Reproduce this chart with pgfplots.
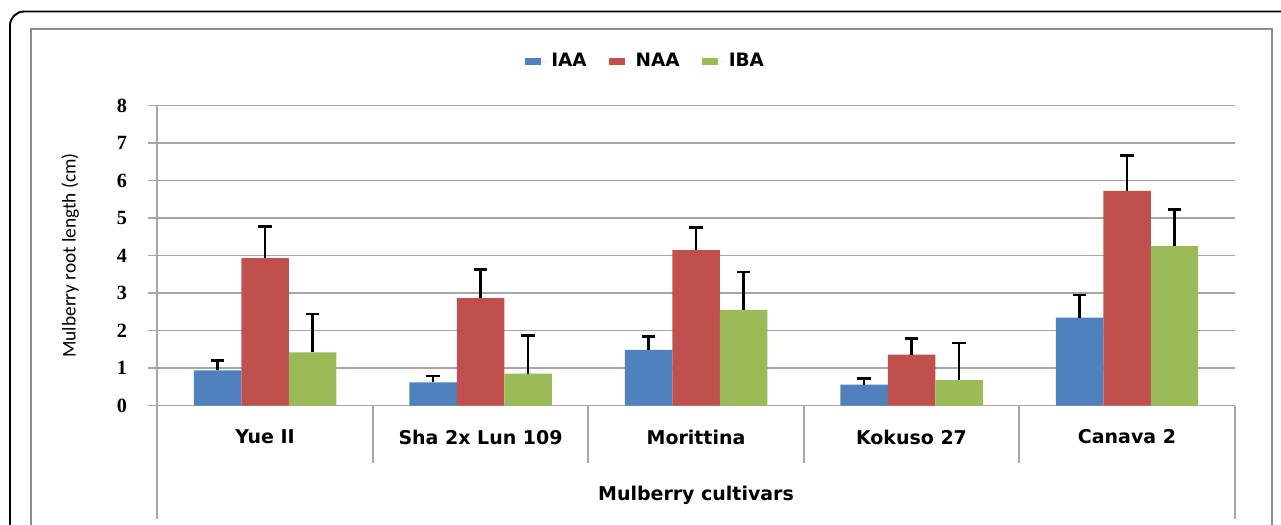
\documentclass[border=0pt]{standalone}
\usepackage{pgfplots}
\pgfplotsset{compat=1.18}
\usepackage{fontspec}
\setmainfont{DejaVu Sans}
\newfontfamily\ylabfont{Carlito}
\newfontfamily\tickfont{Liberation Serif}
\definecolor{cIAA}{HTML}{4F81BD}
\definecolor{cNAA}{HTML}{C0504D}
\definecolor{cIBA}{HTML}{9BBB59}
\definecolor{gridc}{HTML}{A6A6A6}
\definecolor{framec}{HTML}{8C8C8C}
\begin{document}
\begin{tikzpicture}
\begin{scope}[x=0.02cm,y=0.02cm]
\useasboundingbox (0,0) rectangle (1281,524);
\clip (0,0) rectangle (1281,524);
\draw[black, line width=1.1pt, rounded corners=8pt] (10,-20) -- (10,512.5) -- (1320,512.5);
\draw[framec, line width=1.6pt] (31,-20) -- (31,495) -- (1272,495) -- (1272,-20);
\end{scope}
\begin{axis}[
  at={(3.146cm,2.37cm)}, anchor=south west,
  scale only axis, width=21.554cm, height=6.004cm,
  xmin=-0.5, xmax=4.5, ymin=0, ymax=8,
  ytick={0,...,8},
  xtick={0,...,4},
  xticklabels={Yue II, Sha 2x Lun 109, Morittina, Kokuso 27, Canava 2},
  axis x line*=bottom, axis y line*=left,
  axis line style={gridc, line width=0.9pt, -},
  ymajorgrids, grid style={gridc, line width=0.9pt},
  tick align=outside, major tick length=0.18cm,
  ytick style={gridc, line width=0.9pt},
  xtick style={draw=none},
  ybar=0pt, bar width=0.95cm,
  clip=false,
  /pgf/number format/assume math mode=true,
  yticklabel style={font=\tickfont\bfseries\fontsize{11.5}{13}\selectfont, xshift=-0.3cm},
  xticklabel style={font=\bfseries\fontsize{10.8}{12}\selectfont, anchor=center, yshift=-0.45cm},
  xlabel={Mulberry cultivars},
  xlabel style={font=\bfseries\fontsize{10.8}{12}\selectfont, at={(axis description cs:0.5,-0.30)}, anchor=center},
  ylabel={Mulberry root length (cm)},
  ylabel style={font=\ylabfont\fontsize{11}{12}\selectfont, at={(axis description cs:-0.0807,0.5)}, anchor=center},
  legend style={at={(axis description cs:0.4537,1.147)}, anchor=center, draw=none,
    legend columns=-1, font=\bfseries\fontsize{10.5}{12}\selectfont,
    /tikz/every even column/.append style={column sep=0.38cm}},
  legend image code/.code={\fill[#1,draw=none] (0cm,-0.07cm) rectangle (0.32cm,0.07cm); \path (0cm,0cm) -- (0.46cm,0cm);},
  error bars/y dir=plus, error bars/y explicit,
  error bars/error bar style={black, line width=1.4pt},
  error bars/error mark options={black, rotate=90, mark size=3.8pt, line width=1.4pt},
]
\addplot[fill=cIAA, draw=none] coordinates {
  (0,0.94) +- (0,0.26)
  (1,0.62) +- (0,0.16)
  (2,1.48) +- (0,0.36)
  (3,0.56) +- (0,0.16)
  (4,2.34) +- (0,0.60)
};
\addplot[fill=cNAA, draw=none] coordinates {
  (0,3.93) +- (0,0.84)
  (1,2.86) +- (0,0.76)
  (2,4.14) +- (0,0.61)
  (3,1.36) +- (0,0.43)
  (4,5.72) +- (0,0.94)
};
\addplot[fill=cIBA, draw=none] coordinates {
  (0,1.42) +- (0,1.02)
  (1,0.85) +- (0,1.02)
  (2,2.55) +- (0,1.01)
  (3,0.68) +- (0,0.99)
  (4,4.25) +- (0,0.98)
};
\legend{IAA, NAA, IBA}
\draw[gridc, line width=0.9pt] (axis cs:-0.5,0) -- ([yshift=-2.26cm]axis cs:-0.5,0);
\draw[gridc, line width=0.9pt] (axis cs:4.5,0) -- ([yshift=-2.26cm]axis cs:4.5,0);
\draw[gridc, line width=0.9pt] (axis cs:0.5,0) -- ([yshift=-1.14cm]axis cs:0.5,0);
\draw[gridc, line width=0.9pt] (axis cs:1.5,0) -- ([yshift=-1.14cm]axis cs:1.5,0);
\draw[gridc, line width=0.9pt] (axis cs:2.5,0) -- ([yshift=-1.14cm]axis cs:2.5,0);
\draw[gridc, line width=0.9pt] (axis cs:3.5,0) -- ([yshift=-1.14cm]axis cs:3.5,0);
\end{axis}
\end{tikzpicture}
\end{document}
